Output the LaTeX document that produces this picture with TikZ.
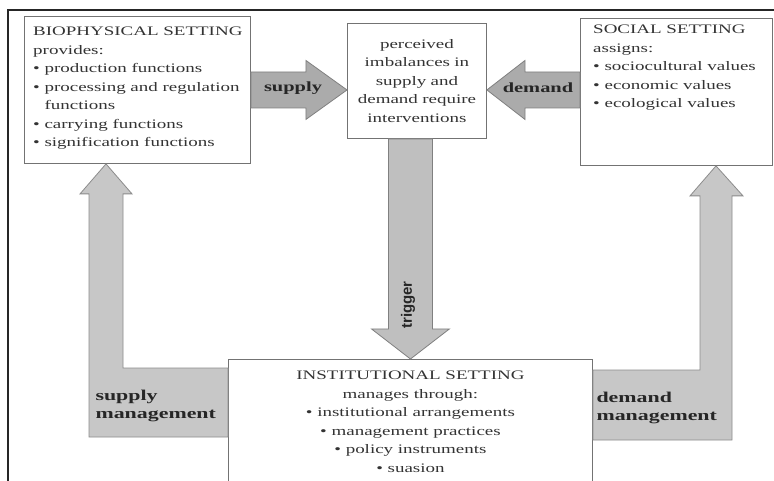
\documentclass[tikz,border=0pt]{standalone}
\usepackage{fontspec}
\setmainfont[FakeStretch=1.46]{Liberation Serif}
\setsansfont{Liberation Sans}
\usetikzlibrary{calc}

\begin{document}
\begin{tikzpicture}[
    x=1pt, y=-1pt,
    box/.style={rectangle, draw=black!55, line width=0.9pt, fill=white, text=black!80, font=\fontsize{13}{18.5}\selectfont},
    boxtext/.style={align=left, text=black!80, font=\fontsize{13}{18.5}\selectfont},
    fatarrow/.style={draw=black!50, line width=0.8pt, fill=black!33},
    bandarrow/.style={draw=black!45, line width=0.8pt, fill=black!22},
    arrowlabel/.style={font=\fontsize{14}{14}\selectfont\bfseries, text=black!85},
    bandlabel/.style={align=left, font=\fontsize{15}{18}\selectfont\bfseries, text=black!85},
    frameline/.style={draw=black!85, line width=1.2pt}
]
    \useasboundingbox (0,0) rectangle (774,481);
    \clip (0,0) rectangle (774,481);
    \fill[white] (0,0) rectangle (774,481);

    % Frame
    \draw[frameline] (8,481) -- (8,10) -- (774,10);

    % Settings
    \node[box, anchor=north west, minimum width=226pt, minimum height=147pt] (bio) at (24,16) {};
    \node[boxtext, anchor=north west, inner xsep=9pt, inner ysep=11pt] (biotext) at (bio.north west)
        {BIOPHYSICAL SETTING\\ provides:\\ \textbullet\ production functions\\ \textbullet\ processing and regulation\\ \hphantom{\textbullet\ }functions\\ \textbullet\ carrying functions\\ \textbullet\ signification functions};
    \node[box, anchor=north west, text width=127pt, inner xsep=6pt, minimum height=115pt, align=center] (center) at (347,23)
        {perceived\\ imbalances in\\ supply and\\ demand require\\ interventions};
    \node[box, anchor=north west, minimum width=192pt, minimum height=147pt] (social) at (580,18) {};
    \node[boxtext, anchor=north west, inner xsep=13pt, inner ysep=7pt] (socialtext) at (social.north west)
        {SOCIAL SETTING\\ assigns:\\ \textbullet\ sociocultural values\\ \textbullet\ economic values\\ \textbullet\ ecological values};
    \node[box, anchor=north west, minimum width=364pt, minimum height=150pt] (inst) at (228,359) {};
    \node[boxtext, align=center, anchor=north, inner ysep=12pt] (insttext) at (inst.north)
        {INSTITUTIONAL SETTING\\ manages through:\\ \textbullet\ institutional arrangements\\ \textbullet\ management practices\\ \textbullet\ policy instruments\\ \textbullet\ suasion};

    % Management arrows
    \coordinate (smtip) at ($(bio.south west)+(82,0)$);
    \draw[bandarrow] (smtip) -- ++(26,30) -- ++(-9,0) |- ($(inst.north west)+(0,9)$) -- ++(0,69) -| ($(smtip)+(-17,30)$) -- ++(-9,0) -- cycle;
    \coordinate (dmtip) at ($(social.south west)+(136,0)$);
    \draw[bandarrow] (dmtip) -- ++(27,30) -- ++(-11,0) |- ($(inst.north east)+(0,81)$) -- ++(0,-70) -| ($(dmtip)+(-16,30)$) -- ++(-10,0) -- cycle;
    \node[bandlabel, anchor=west] (smlabel) at (92,406) {supply\\ management};
    \node[bandlabel, anchor=west] (dmlabel) at (593,408) {demand\\ management};

    % Supply, demand, trigger
    \draw[fatarrow] ($(bio.east)+(0,-18)$) -- ++(55,0) -- ++(0,-11.5) -- (center.west |- bio.east) -- ($(bio.east)+(55,29.5)$) -- ++(0,-11.5) -- ($(bio.east)+(0,18)$) -- cycle;
    \draw[fatarrow] ($(social.west)+(0,-20)$) -- ++(-55,0) -- ++(0,-11.5) -- ($(center.east |- social.west)+(0,-2)$) -- ($(social.west)+(-55,27.5)$) -- ++(0,-11.5) -- ($(social.west)+(0,16)$) -- cycle;
    \draw[fatarrow, fill=black!25] ($(inst.north |- center.south)+(-22,0)$) -- ++(0,190) -- ++(-17,0) -- (inst.north) -- ($(inst.north |- center.south)+(39,190)$) -- ++(-17,0) -- ($(inst.north |- center.south)+(22,0)$) -- cycle;
    \node[arrowlabel] (supplylabel) at (293,88) {supply};
    \node[arrowlabel] (demandlabel) at (538,88) {demand};
    \node[arrowlabel, font=\fontsize{15}{15}\selectfont\sffamily\bfseries, rotate=90] (triggerlabel) at (408,305) {trigger};

\end{tikzpicture}
\end{document}
